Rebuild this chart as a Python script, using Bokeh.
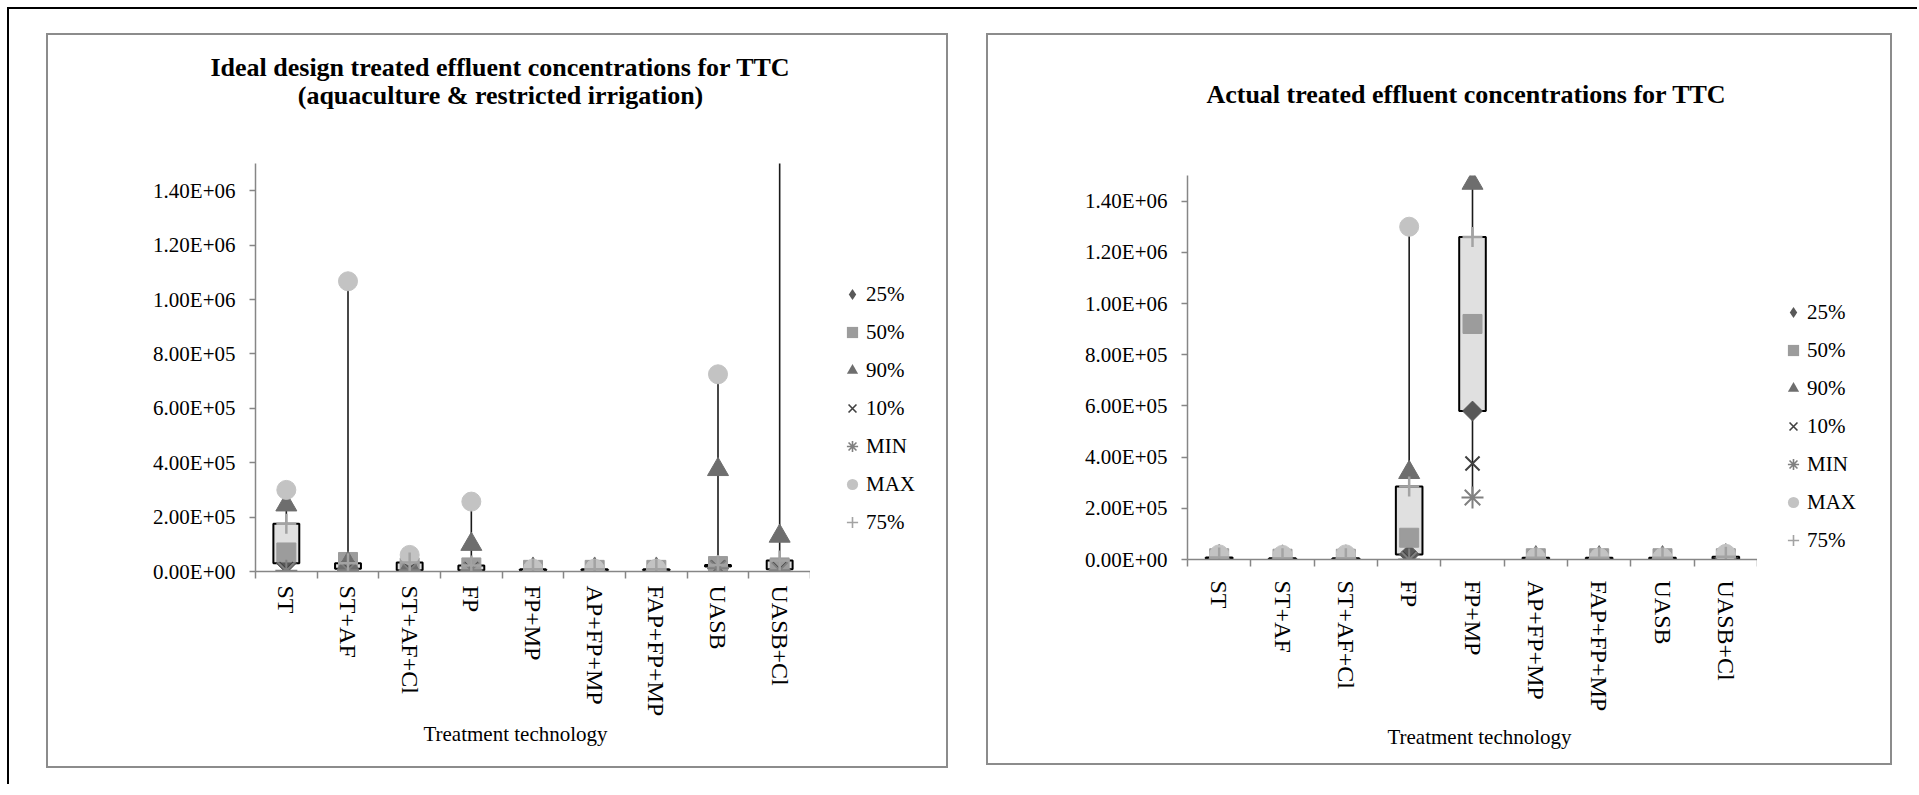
import numpy as np
from bokeh.plotting import figure
from bokeh.models import (FixedTicker, Legend, LegendItem, ColumnDataSource, Range1d, Label, Spacer)
from bokeh.layouts import row, column
from bokeh.embed import file_html
from bokeh.resources import INLINE

# ---------------- data ----------------
categories = ["ST", "ST+AF", "ST+AF+Cl", "FP", "FP+MP", "AP+FP+MP", "FAP+FP+MP", "UASB", "UASB+Cl"]
series_names = ["25%", "50%", "90%", "10%", "MIN", "MAX", "75%"]
y_ticks = [0, 200000, 400000, 600000, 800000, 1000000, 1200000, 1400000]
y_labels = [f"{v:.2E}" for v in y_ticks]

# Ideal design treated effluent (aquaculture & restricted irrigation)
ideal_p25 = [3.0e4, 1.0e4, 5.0e3, 5.0e3, 4.0e3, 4.0e3, 4.0e3, 1.8e4, 8.0e3]
ideal_p50 = [7.0e4, 3.5e4, 1.5e4, 1.5e4, 6.0e3, 6.0e3, 6.0e3, 2.0e4, 1.5e4]
ideal_p90 = [2.45e5, 3.0e4, 2.0e4, 1.0e5, 9.0e3, 9.0e3, 9.0e3, 3.75e5, 1.3e5]
ideal_p10 = [8.0e3, 8.0e3, 8.0e3, 8.0e3, 3.0e3, 3.0e3, 3.0e3, 1.5e4, 8.0e3]
ideal_min = [3.0e3, 5.0e3, 5.0e3, 5.0e3, 2.0e3, 2.0e3, 2.0e3, 1.2e4, 5.0e3]
ideal_max = [3.0e5, 1.067e6, 6.1e4, 2.57e5, 1.0e4, 1.0e4, 1.0e4, 7.25e5, 2.4e6]
ideal_p75 = [1.76e5, 3.0e4, 3.3e4, 2.2e4, 8.0e3, 8.0e3, 8.0e3, 2.4e4, 4.0e4]

# Actual treated effluent
actual_p25 = [2.0e3, 1.0e3, 1.0e3, 2.0e4, 5.8e5, 3.0e3, 3.0e3, 3.0e3, 2.0e3]
actual_p50 = [5.0e3, 3.0e3, 3.0e3, 8.5e4, 9.2e5, 5.0e3, 5.0e3, 5.0e3, 5.0e3]
actual_p90 = [1.2e4, 1.0e4, 1.0e4, 3.4e5, 1.47e6, 7.0e3, 7.0e3, 7.0e3, 1.5e4]
actual_p10 = [1.0e3, 5.0e2, 5.0e2, 5.0e3, 3.75e5, 2.0e3, 2.0e3, 2.0e3, 1.0e3]
actual_min = [0.0, 0.0, 0.0, 0.0, 2.42e5, 1.0e3, 1.0e3, 1.0e3, 0.0]
actual_max = [2.0e4, 1.8e4, 2.0e4, 1.3e6, np.nan, 8.0e3, 8.0e3, 8.0e3, 2.2e4]
actual_p75 = [8.0e3, 5.0e3, 5.0e3, 2.85e5, 1.26e6, 7.0e3, 7.0e3, 7.0e3, 1.1e4]

# ---------------- style ----------------
FONT = "Liberation Serif"
AXC = "#868686"
C25, C50, C90, C10, CMIN, CMAX, C75 = "#595959", "#9c9c9c", "#6e6e6e", "#404040", "#808080", "#c3c3c3", "#a3a3a3"

MARKERS = [
    dict(col="p25", marker="square", angle=np.pi / 4, size=14, fill_color=C25, line_color=C25),
    dict(col="p50", marker="square", size=19, fill_color=C50, line_color=C50),
    dict(col="p90", marker="triangle", size=21, fill_color=C90, line_color=C90),
    dict(col="p10", marker="x", size=20, line_color=C10, line_width=2),
    dict(col="pmin", marker="asterisk", size=22, line_color=CMIN, line_width=2),
    dict(col="pmax", marker="circle", size=19, fill_color=CMAX, line_color=CMAX),
    dict(col="p75", marker="cross", size=20, line_color=C75, line_width=2.5),
]
LEGEND_MARKERS = [
    dict(col="p25", marker="diamond", fill_color=C25, line_color=None),
    dict(col="p50", marker="square", fill_color=C50, line_color=None),
    dict(col="p90", marker="triangle", fill_color=C90, line_color=None),
    dict(col="p10", marker="x", line_color=C10, line_width=1.6),
    dict(col="pmin", marker="asterisk", line_color=CMIN, line_width=1.6),
    dict(col="pmax", marker="circle", fill_color=CMAX, line_color=None),
    dict(col="p75", marker="cross", line_color=C75, line_width=1.6),
]


def blank_fig(w, h):
    f = figure(width=w, height=h, min_border=0, x_range=Range1d(0, w), y_range=Range1d(0, h),
               output_backend="svg", toolbar_location=None,
               x_axis_location=None, y_axis_location=None)
    f.title.visible = False
    f.grid.visible = False
    f.outline_line_color = None
    f.background_fill_color = "white"
    f.border_fill_color = "white"
    return f


def make_panel(title_lines, title_cx, title_cys, vals, W, H, bl, bt, fw, fh, bb_axis,
               leg_marker_cx, leg_top, xlab_standoff, xtitle_cx, xtitle_cy):
    n = len(categories)
    main_w = bl + fw
    main_h = fh + bb_axis
    leg_w = W - main_w
    bot_h = H - bt - main_h

    # ---- title strip ----
    tf = blank_fig(W, bt)
    for txt, cy in zip(title_lines, title_cys):
        tf.add_layout(Label(x=title_cx, y=bt - cy, x_units="screen", y_units="screen",
                            text=txt, text_align="center", text_baseline="middle",
                            text_font=FONT, text_font_style="bold", text_font_size="26px",
                            text_color="black"))

    # ---- main plot ----
    p = figure(width=main_w, height=main_h, min_border_left=bl, min_border_top=0,
               min_border_right=0, min_border_bottom=bb_axis,
               x_range=Range1d(0, n), y_range=Range1d(0, 1.5e6),
               output_backend="svg", toolbar_location=None)
    p.title.visible = False
    p.xgrid.visible = False
    p.ygrid.visible = False
    p.outline_line_color = None
    p.background_fill_color = "white"
    p.border_fill_color = "white"

    centers = [i + 0.5 for i in range(n)]
    xa = p.xaxis[0]
    xa.ticker = FixedTicker(ticks=centers, minor_ticks=list(range(n + 1)))
    xa.major_label_overrides = {c: lab for c, lab in zip(centers, categories)}
    xa.major_tick_line_color = None
    xa.major_tick_out = 0
    xa.major_tick_in = 0
    xa.minor_tick_line_color = AXC
    xa.minor_tick_line_width = 1.5
    xa.minor_tick_out = 7
    xa.minor_tick_in = 0
    xa.axis_line_color = AXC
    xa.axis_line_width = 1.5
    xa.major_label_orientation = "vertical"
    xa.major_label_text_font = FONT
    xa.major_label_text_font_size = "24px"
    xa.major_label_text_color = "black"
    xa.major_label_standoff = xlab_standoff

    ya = p.yaxis[0]
    ya.ticker = FixedTicker(ticks=y_ticks, minor_ticks=[])
    ya.major_label_overrides = {t: lab for t, lab in zip(y_ticks, y_labels)}
    ya.major_tick_line_color = AXC
    ya.major_tick_line_width = 1.5
    ya.major_tick_out = 6
    ya.major_tick_in = 0
    ya.minor_tick_line_color = None
    ya.axis_line_color = AXC
    ya.axis_line_width = 1.5
    ya.major_label_text_font = FONT
    ya.major_label_text_font_size = "21px"
    ya.major_label_text_color = "black"
    ya.major_label_standoff = 14

    stack = np.array(vals, dtype=float)
    lo = np.nanmin(stack, axis=0)
    hi = np.nanmax(stack, axis=0)
    p25, p50, p90, p10, pmin, pmax, p75 = vals
    src = ColumnDataSource(dict(x=centers, p25=p25, p50=p50, p90=p90, p10=p10,
                                pmin=pmin, pmax=pmax, p75=p75, lo=lo, hi=hi))

    # high-low lines (min..max)
    p.segment(x0="x", y0="lo", x1="x", y1="hi", source=src, line_color="#1a1a1a", line_width=1.6)
    # up bars (25% -> 75%)
    p.vbar(x="x", width=0.42, bottom="p25", top="p75", source=src,
           fill_color="#e0e0e0", line_color="black", line_width=2)
    for m in MARKERS:
        kw = dict(m)
        col = kw.pop("col")
        p.scatter("x", col, source=src, **kw)

    # ---- legend strip (its frame is aligned with the plot frame by the row) ----
    lf = blank_fig(leg_w, main_h)
    leg_rs = []
    for m in LEGEND_MARKERS:
        kw = dict(m)
        col = kw.pop("col")
        # same series, zero-size marks: only the legend swatch is visible
        leg_rs.append(lf.scatter("x", col, source=src, size=0, **kw))
    glyph_w = 28
    items = [LegendItem(label=nm, renderers=[r]) for nm, r in zip(series_names, leg_rs)]
    legend_h = 38 * len(series_names)
    legend = Legend(items=items, location=(leg_marker_cx - glyph_w / 2, fh - leg_top - legend_h),
                    orientation="vertical", glyph_width=glyph_w, glyph_height=38, label_height=38,
                    label_standoff=-14, spacing=0, padding=0, margin=0,
                    border_line_color=None, background_fill_alpha=0,
                    label_text_font=FONT, label_text_font_size="21px", label_text_color="black")
    lf.add_layout(legend)

    # ---- axis title strip ----
    bf = blank_fig(W, bot_h)
    bf.add_layout(Label(x=xtitle_cx, y=bot_h - xtitle_cy, x_units="screen", y_units="screen",
                        text="Treatment technology", text_align="center", text_baseline="middle",
                        text_font=FONT, text_font_size="21px", text_color="black"))

    panel = column(tf, row(p, lf, spacing=0), bf, spacing=0,
                   styles={"border": "2px solid #8c8c8c", "background-color": "white"})
    return panel


# panel 1 canvas origin at page (48, 35)
panel1 = make_panel(["Ideal design treated effluent concentrations for TTC",
                     "(aquaculture & restricted irrigation)"], 452, [32, 60],
                    [ideal_p25, ideal_p50, ideal_p90, ideal_p10, ideal_min, ideal_max, ideal_p75],
                    W=898, H=731, bl=207, bt=128, fw=555, fh=411, bb_axis=145,
                    leg_marker_cx=42, leg_top=115, xlab_standoff=7,
                    xtitle_cx=467, xtitle_cy=14)

# panel 2 canvas origin at page (988, 35)
panel2 = make_panel(["Actual treated effluent concentrations for TTC"], 478, [59],
                    [actual_p25, actual_p50, actual_p90, actual_p10, actual_min, actual_max, actual_p75],
                    W=902, H=728, bl=199, bt=140, fw=570, fh=391, bb_axis=148,
                    leg_marker_cx=36, leg_top=125, xlab_standoff=14,
                    xtitle_cx=491, xtitle_cy=22)

layout = column(row(panel1, panel2, spacing=38), Spacer(height=16, width=10), spacing=0,
                styles={"margin-left": "7px", "margin-top": "7px",
                        "border-left": "2px solid black", "border-top": "2px solid black",
                        "padding-left": "37px", "padding-top": "24px",
                        "padding-right": "25px",
                        "background-color": "white"})

open("out.html", "w").write(file_html(layout, INLINE, "TTC concentrations"))
